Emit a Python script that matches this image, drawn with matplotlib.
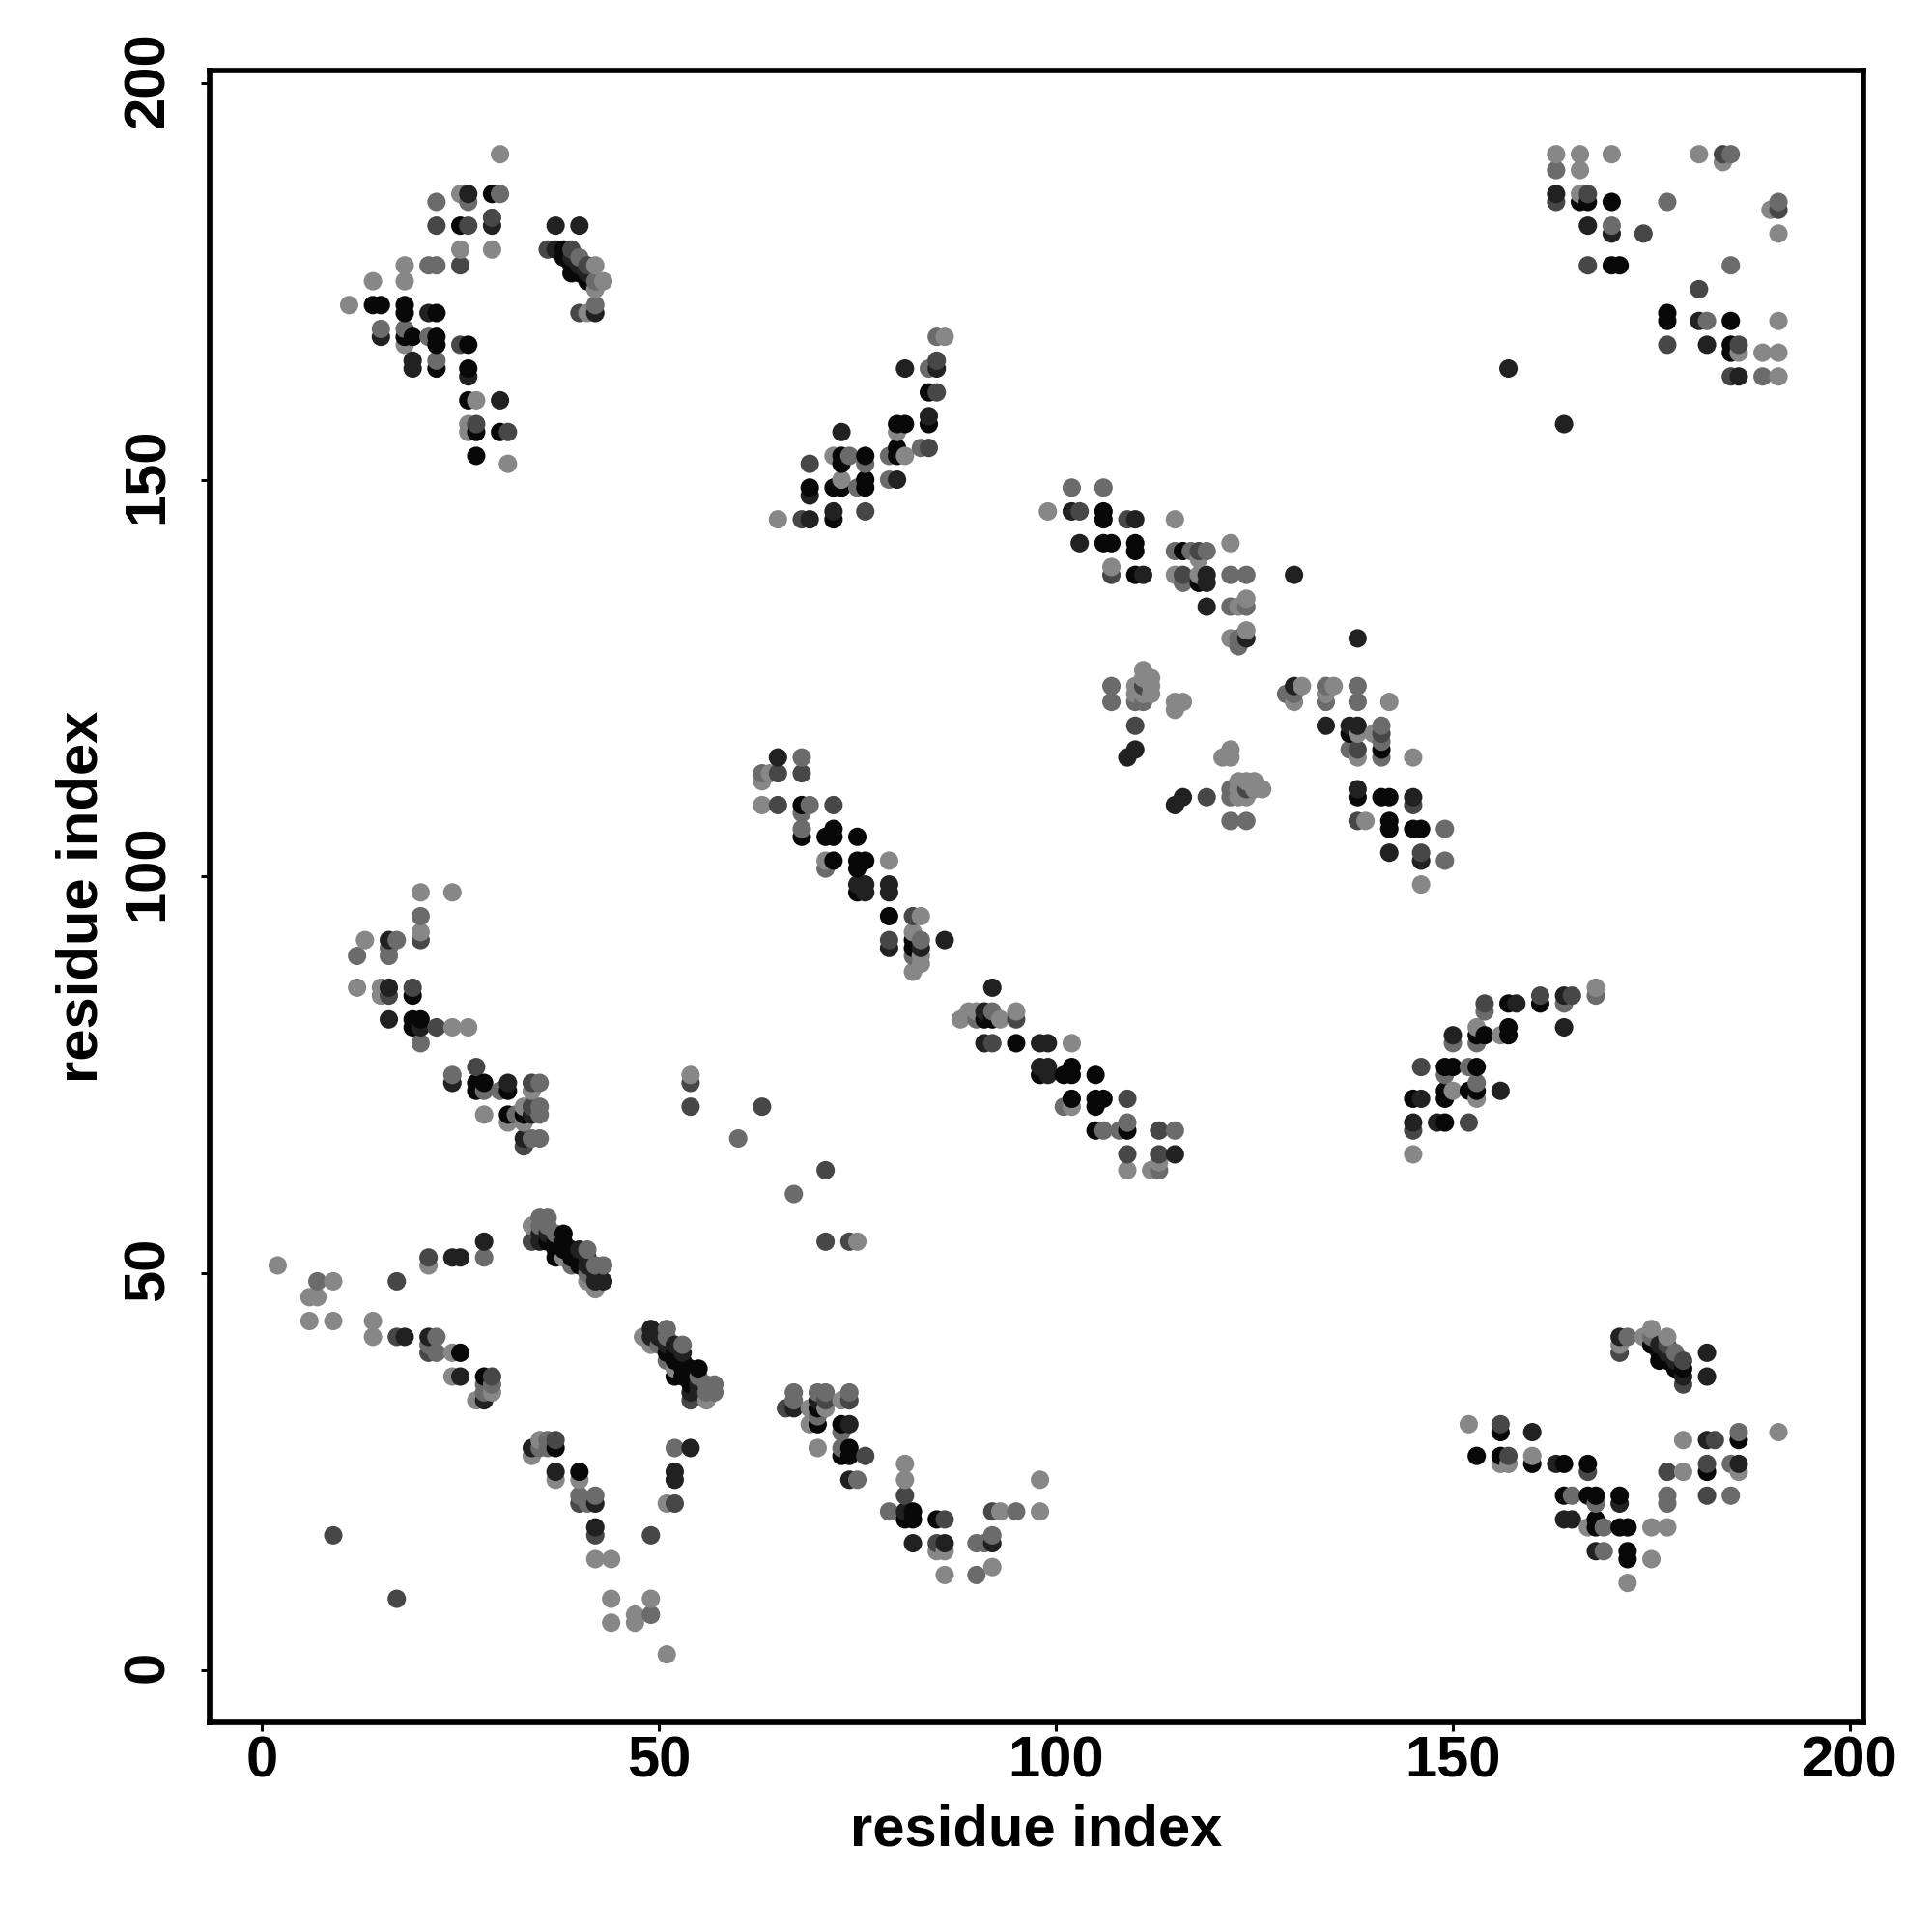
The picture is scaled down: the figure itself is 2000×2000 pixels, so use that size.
import numpy as np
import matplotlib
matplotlib.use('Agg')
import matplotlib.pyplot as plt
from matplotlib.transforms import ScaledTranslation

plt.rcParams['font.family'] = ['Liberation Sans', 'DejaVu Sans']
plt.rcParams['font.weight'] = 'bold'

# contact strength
L, M, H, D, K = 0.47, 0.58, 0.72, 0.87, 0.97

# contacts (i, j, strength) with i < j, map is symmetric
helix_a = [
    (2, 51, L), (7, 49, M), (9, 49, L), (6, 47, L), (7, 47, L), (6, 44, L), (9, 44, L),
    (14, 44, L), (14, 42, L), (17, 42, H), (18, 42, D), (17, 49, H), (21, 52, H), (21, 51, L),
    (24, 52, D), (25, 52, D), (28, 54, D), (28, 52, M), (21, 42, D), (22, 42, M), (21, 41, M),
    (21, 40, H), (22, 40, M), (24, 40, L), (25, 40, K), (24, 37, L), (25, 37, D), (28, 37, K),
    (29, 37, H), (28, 36, M), (29, 36, M), (28, 35, M), (29, 35, L), (27, 34, L), (28, 34, D),
    (9, 17, H),
]
helix_b = [
    (34, 56, L), (35, 57, M), (36, 57, M), (35, 56, M), (36, 56, M), (34, 54, H), (35, 55, D),
    (35, 54, D), (36, 55, D), (36, 54, K), (37, 55, M), (38, 55, K), (37, 54, K), (38, 54, K),
    (37, 53, K), (38, 53, K), (37, 52, K), (38, 52, L), (39, 53, K), (39, 52, K), (40, 53, D),
    (41, 53, M), (40, 52, K), (41, 52, D), (39, 51, M), (40, 51, K), (41, 51, D), (42, 51, M),
    (43, 51, M), (41, 50, M), (42, 50, D), (41, 49, L), (42, 49, D), (43, 49, D), (42, 48, L),
]
upper_left = [
    (30, 191, L), (25, 186, L), (26, 186, D), (26, 185, M), (29, 186, K), (30, 186, M),
    (22, 185, M), (22, 182, H), (25, 182, K), (26, 182, H), (29, 183, H), (29, 182, D),
    (25, 179, L), (29, 179, L), (18, 177, L), (21, 177, M), (22, 177, M), (25, 177, H),
    (14, 175, L), (18, 175, L), (11, 172, L), (14, 172, K), (15, 172, K), (18, 172, K),
    (18, 171, K), (21, 171, D), (22, 171, K), (15, 169, M), (15, 168, D), (18, 169, M),
    (19, 168, K), (18, 168, K), (18, 167, L), (21, 168, M), (22, 168, K), (22, 167, K),
    (25, 167, H), (26, 167, K), (19, 165, D), (19, 164, D), (22, 165, M), (22, 164, K),
    (26, 164, K), (26, 163, D), (26, 160, K), (27, 160, L), (30, 160, D), (26, 157, L),
    (26, 156, L), (27, 157, H), (27, 156, K), (30, 156, K), (31, 156, H), (27, 153, K),
    (31, 152, L),
    (37, 182, D), (40, 182, D), (36, 179, H), (37, 179, D), (38, 179, K), (39, 179, H),
    (38, 178, K), (39, 178, D), (40, 178, M), (39, 177, K), (40, 177, D), (41, 177, H),
    (42, 177, L), (39, 176, K), (40, 176, K), (41, 176, D), (41, 175, K), (42, 175, M),
    (43, 175, L), (42, 174, L), (40, 171, H), (41, 171, L), (42, 171, D), (42, 172, M),
]
left_mid = [
    (20, 98, L), (24, 98, L), (20, 95, M), (20, 93, L), (20, 92, H), (13, 92, L), (16, 92, D),
    (17, 92, M), (16, 91, M), (16, 90, M), (12, 90, M), (12, 86, L), (15, 86, L), (15, 85, L),
    (16, 86, D), (16, 85, H), (19, 86, H), (19, 85, K), (16, 82, D), (19, 82, K), (20, 82, K),
    (19, 81, K), (20, 81, D), (22, 81, H), (24, 81, L), (26, 81, L), (20, 79, M), (27, 76, H),
    (24, 75, M), (24, 74, D), (27, 74, K), (28, 74, K), (27, 73, K), (28, 73, M), (30, 73, M),
    (31, 74, D), (31, 73, K), (34, 74, H), (35, 74, M), (34, 73, L), (28, 70, L), (31, 70, K),
    (32, 70, M), (31, 69, L), (33, 70, K), (34, 70, D), (33, 71, L), (34, 71, H), (35, 71, M),
    (35, 70, M), (33, 69, L), (33, 67, D), (33, 66, H), (34, 67, M), (35, 67, M),
]
sparse_mid = [
    (54, 75, L), (54, 74, H), (54, 71, H), (63, 71, H), (60, 67, M),
]
long_diag = [
    (65, 115, D), (68, 115, M), (63, 113, M), (64, 113, L), (65, 113, H), (68, 113, H),
    (63, 112, L), (63, 109, L), (65, 109, H), (68, 109, K), (69, 109, M), (72, 109, H),
    (68, 108, M), (68, 106, M), (68, 105, K), (72, 106, K), (71, 105, K), (72, 105, K),
    (75, 105, K), (71, 102, L), (71, 101, M), (72, 102, K), (75, 102, K), (76, 102, K),
    (75, 101, K), (79, 102, L), (75, 99, D), (76, 99, D), (75, 98, K), (76, 98, D), (79, 99, D),
    (79, 98, D), (79, 95, K), (82, 95, H), (83, 95, L), (79, 92, H), (79, 91, D), (82, 93, L),
    (83, 92, M), (82, 92, K), (82, 91, K), (83, 91, D), (82, 90, M), (83, 90, L), (83, 89, L),
    (82, 88, L), (86, 92, D),
]
center_top = [
    (85, 168, M), (86, 168, L), (85, 165, H), (84, 164, M), (85, 164, D), (81, 164, D),
    (84, 161, K), (85, 161, H), (84, 158, D), (84, 157, K), (80, 157, K), (81, 157, K),
    (80, 156, L), (73, 156, D), (80, 154, K), (80, 153, K), (79, 153, M), (81, 153, L),
    (83, 154, M), (84, 154, H), (72, 153, L), (73, 153, K), (74, 153, M), (73, 152, K),
    (76, 153, K), (76, 152, M), (69, 152, H), (79, 150, M), (80, 150, D), (73, 150, L),
    (76, 150, K), (76, 149, K), (75, 149, M), (72, 149, K), (73, 149, K), (69, 149, K),
    (69, 148, D), (72, 146, D), (72, 145, K), (76, 146, H), (65, 145, L), (68, 145, H),
    (69, 145, D),
]
center_right = [
    (102, 149, M), (106, 149, M), (99, 146, L), (102, 146, D), (103, 146, H), (106, 146, K),
    (106, 145, K), (109, 145, H), (110, 145, D), (115, 145, L), (103, 142, D), (106, 142, K),
    (107, 142, K), (110, 142, K), (110, 141, K), (115, 141, M), (116, 141, K), (117, 141, M),
    (118, 141, H), (119, 141, M), (122, 142, L), (118, 140, L), (107, 139, L), (107, 138, H),
    (110, 138, K), (111, 138, D), (115, 138, L), (116, 138, H), (116, 137, M), (118, 138, L),
    (119, 138, D), (118, 137, K), (119, 137, D), (122, 138, M), (124, 138, M), (119, 134, D),
    (122, 134, M), (123, 134, L), (124, 135, L), (124, 134, M), (124, 131, L), (124, 130, D),
    (122, 130, L), (123, 130, M), (123, 129, M), (130, 138, D),
]
near_diag = [
    (107, 124, M), (107, 122, M), (110, 124, L), (111, 126, L), (112, 125, L), (110, 122, M),
    (111, 122, M), (112, 123, L), (111, 125, L), (111, 124, H), (112, 124, L), (111, 123, L),
    (110, 123, L), (115, 122, L), (116, 122, L), (115, 121, L), (110, 119, H), (110, 116, D),
    (109, 115, D),
]
upper_right = [
    (157, 164, D), (163, 191, L), (166, 191, L), (170, 191, L), (181, 191, L), (184, 191, H),
    (185, 191, M), (184, 190, L), (163, 189, M), (166, 189, L), (163, 186, D), (163, 185, H),
    (166, 186, L), (167, 186, H), (166, 185, K), (167, 185, K), (170, 185, K), (177, 185, M),
    (167, 182, D), (170, 182, M), (170, 181, D), (174, 181, H), (167, 177, H), (170, 177, K),
    (171, 177, K),
]

contacts = np.array(helix_a + helix_b + upper_left + left_mid + sparse_mid + long_diag
                    + center_top + center_right + near_diag + upper_right)

# both halves of the map, drawn left to right like the original
x = np.concatenate([contacts[:, 0], contacts[:, 1]])
y = np.concatenate([contacts[:, 1], contacts[:, 0]])
strength = np.concatenate([contacts[:, 2], contacts[:, 2]])
order = np.lexsort((y, x))

fig = plt.figure(figsize=(10, 10), dpi=200, facecolor='white')
ax = fig.add_axes([217 / 2000, 217 / 2000, 1712 / 2000, 1710 / 2000])

# dots are opaque greys, later ones cover earlier ones
grey = 1 - strength[order]
ax.scatter(x[order], y[order], s=47, c=np.column_stack([grey, grey, grey]), linewidths=0)

ax.set_xlim(-6.57, 201.7)
ax.set_ylim(-6.57, 201.55)

ticks = [0, 50, 100, 150, 200]
ax.set_xticks(ticks)
ax.set_yticks(ticks)
ax.tick_params(axis='both', length=3.4, width=1.1, labelsize=21.5)
ax.tick_params(axis='x', pad=1.5)
ax.tick_params(axis='y', pad=9.5)
# rotated labels sit a little above their ticks in the original
shift_up = ScaledTranslation(0, 4 / 200, fig.dpi_scale_trans)
for label in ax.get_yticklabels():
    label.set_rotation(90)
    label.set_va('center')
    label.set_transform(label.get_transform() + shift_up)
for side in ax.spines.values():
    side.set_linewidth(2.05)

ax.set_xlabel('residue index', fontsize=21.5, fontweight='bold', labelpad=5.8)
ax.set_ylabel('residue index', fontsize=21.5, fontweight='bold', labelpad=5)

fig.savefig('out.png', dpi=200)
